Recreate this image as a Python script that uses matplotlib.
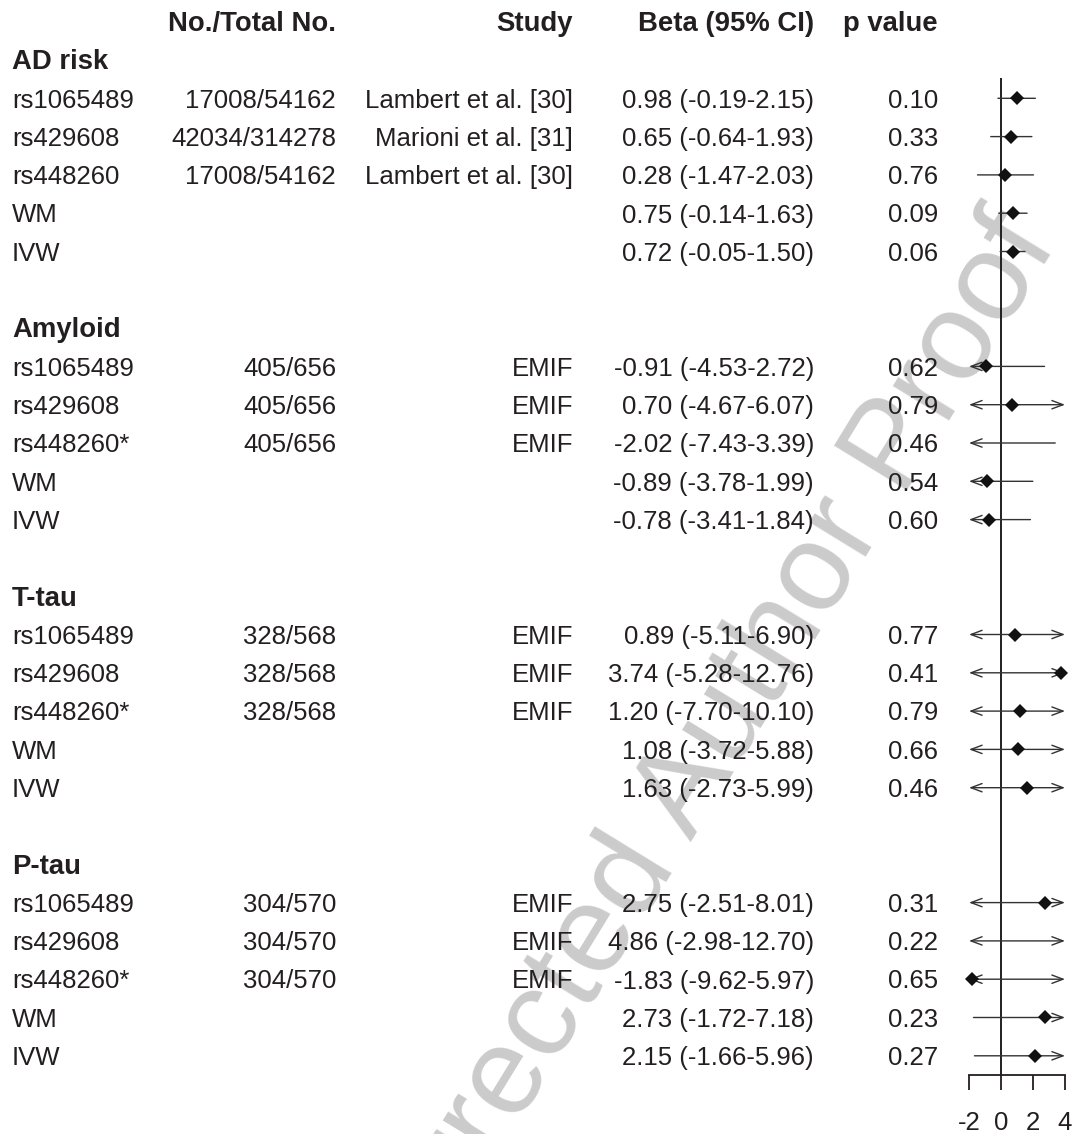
import matplotlib
matplotlib.use('Agg')
import matplotlib.pyplot as plt

plt.rcParams['font.family'] = ['Liberation Sans', 'DejaVu Sans']
plt.rcParams['axes.unicode_minus'] = False

# data
groups = ['AD risk', 'Amyloid', 'T-tau', 'P-tau']
snps = [['rs1065489', 'rs429608', 'rs448260', 'WM', 'IVW'],
        ['rs1065489', 'rs429608', 'rs448260*', 'WM', 'IVW'],
        ['rs1065489', 'rs429608', 'rs448260*', 'WM', 'IVW'],
        ['rs1065489', 'rs429608', 'rs448260*', 'WM', 'IVW']]
counts = [['17008/54162', '42034/314278', '17008/54162', '', ''],
          ['405/656', '405/656', '405/656', '', ''],
          ['328/568', '328/568', '328/568', '', ''],
          ['304/570', '304/570', '304/570', '', '']]
studies = [['Lambert et al. [30]', 'Marioni et al. [31]', 'Lambert et al. [30]', '', ''],
           ['EMIF', 'EMIF', 'EMIF', '', ''],
           ['EMIF', 'EMIF', 'EMIF', '', ''],
           ['EMIF', 'EMIF', 'EMIF', '', '']]
beta = [[0.98, 0.65, 0.28, 0.75, 0.72],
        [-0.91, 0.70, -2.02, -0.89, -0.78],
        [0.89, 3.74, 1.20, 1.08, 1.63],
        [2.75, 4.86, -1.83, 2.73, 2.15]]
lower = [[-0.19, -0.64, -1.47, -0.14, -0.05],
         [-4.53, -4.67, -7.43, -3.78, -3.41],
         [-5.11, -5.28, -7.70, -3.72, -2.73],
         [-2.51, -2.98, -9.62, -1.72, -1.66]]
upper = [[2.15, 1.93, 2.03, 1.63, 1.50],
         [2.72, 6.07, 3.39, 1.99, 1.84],
         [6.90, 12.76, 10.10, 5.88, 5.99],
         [8.01, 12.70, 5.97, 7.18, 5.96]]
pvals = [['0.10', '0.33', '0.76', '0.09', '0.06'],
         ['0.62', '0.79', '0.46', '0.54', '0.60'],
         ['0.77', '0.41', '0.79', '0.66', '0.46'],
         ['0.31', '0.22', '0.65', '0.23', '0.27']]
headers = ['No./Total No.', 'Study', 'Beta (95% CI)', 'p value']
xticks = [-2, 0, 2, 4]

W, H = 1074, 1134
FS = 18.5
FSB = 19.8
ink = '#231f20'
row_h = 38.3
top = 60.0
ylim = ((H - top) / row_h, -top / row_h)
base = 9.3 / row_h  # baseline offset from cap centre

fig = plt.figure(figsize=(W / 100, H / 100), dpi=100)
ax = fig.add_axes([0, 0, 1, 1], zorder=0)
ax.set_xlim(0, W)
ax.set_ylim(*ylim)
ax.axis('off')

xmin, xmax = xticks[0], xticks[-1]
fx0, fx1 = 969, 1065
axf = fig.add_axes([fx0 / W, 0, (fx1 - fx0) / W, 1], zorder=1)
axf.set_xlim(xmin, xmax)
axf.set_ylim(*ylim)
axf.patch.set_visible(False)

# watermark (runs off the bottom edge, as in the source)
ax.text(697, (772 - top) / row_h, 'Corrected Author Proof', fontsize=90,
        color='#cbcbcb', rotation=58.5, ha='center', va='center', zorder=0)

col_right = [336, 573, 814, 938]
for x, h in zip(col_right, headers):
    ax.text(x, -1 + base, h, fontsize=FSB, fontweight='bold', color=ink,
            ha='right', va='baseline', zorder=3)

for g, name in enumerate(groups):
    y0 = 7 * g
    ax.text(12, y0 + base, name, fontsize=FSB, fontweight='bold', color=ink,
            va='baseline', zorder=3)
    for k in range(5):
        y = y0 + 1 + k
        b, lo, hi = beta[g][k], lower[g][k], upper[g][k]
        cells = [counts[g][k], studies[g][k],
                 '{:.2f} ({:.2f}-{:.2f})'.format(b, lo, hi), pvals[g][k]]
        ax.text(12, y + base, snps[g][k], fontsize=FS, color=ink,
                va='baseline', zorder=3)
        for x, c in zip(col_right, cells):
            ax.text(x, y + base, c, fontsize=FS, color=ink, ha='right',
                    va='baseline', zorder=3)
        # confidence interval, arrows where it runs past the axis
        l, r = max(lo, xmin), min(hi, xmax)
        style = ('<' if lo < xmin else '') + '-' + ('>' if hi > xmax else '')
        if style != '-':
            style += ',head_length=0.8,head_width=0.3'
        axf.annotate('', xy=(r, y), xytext=(l, y),
                     arrowprops=dict(arrowstyle=style, lw=1.0, color='#333333',
                                     shrinkA=0, shrinkB=0, mutation_scale=10),
                     annotation_clip=False)
        if xmin <= b <= xmax:
            axf.plot(b, y, marker='D', ms=7.4, color='#111111', mew=0,
                     zorder=4, clip_on=False)

axis_y = 26.5
axf.vlines(0, 0.47, axis_y, color=ink, lw=1.4)
for s in ['top', 'right', 'left']:
    axf.spines[s].set_visible(False)
axf.spines['bottom'].set_position(('data', axis_y))
axf.spines['bottom'].set_bounds(xmin, xmax)
axf.spines['bottom'].set_linewidth(1.3)
axf.spines['bottom'].set_color(ink)
axf.set_yticks([])
axf.set_xticks(xticks)
axf.set_xticklabels([str(t) for t in xticks])
axf.tick_params(axis='x', direction='out', length=10.8, width=1.3,
                color=ink, labelsize=FS, labelcolor=ink, pad=15)

fig.savefig('out.png', dpi=100)
